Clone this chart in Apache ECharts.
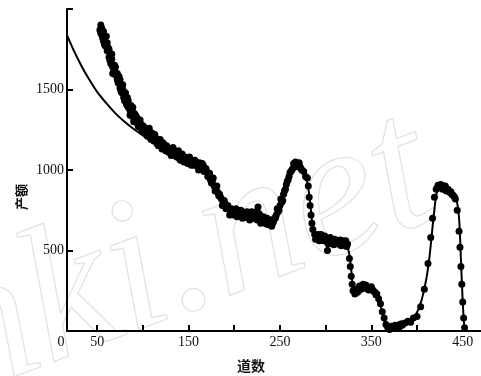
<!DOCTYPE html>
<html>
<head>
<meta charset="utf-8">
<script src="https://cdn.jsdelivr.net/npm/echarts@6/dist/echarts.min.js"></script>
<style>
  html, body { margin: 0; padding: 0; background: #fff; }
  #chart { width: 481px; height: 376px; }
</style>
</head>
<body>
<div id="chart"></div>
<script>
// measured points (channel, yield)
const dotChannels = [
  53, 54, 55, 56, 57, 58, 59, 60, 61, 62, 63, 64, 65, 66, 67, 68, 69, 70, 71, 72,
  73, 74, 75, 76, 77, 78, 79, 80, 81, 82, 83, 84, 85, 86, 87, 88, 89, 90, 91, 92,
  93, 94, 95, 96, 97, 98, 99, 100, 102, 104, 106, 108, 110, 112, 114, 116, 118, 120,
  122, 124, 126, 128, 130, 132, 134, 136, 138, 140, 142, 144, 146, 148, 150, 152,
  154, 156, 158, 160, 162, 164, 166, 168, 170, 172, 174, 176, 178, 180, 182, 184,
  186, 188, 190, 192, 194, 196, 198, 200, 202, 204, 206, 208, 210, 212, 214, 216,
  218, 220, 222, 224, 226, 226, 228, 230, 232, 234, 236, 238, 240, 242, 244, 246,
  248, 250, 252, 254, 256, 258, 260, 262, 264, 266, 268, 270, 272, 274, 276, 278,
  280, 281, 282, 283, 284, 285, 286, 288, 290, 292, 294, 296, 298, 300, 302, 302,
  304, 306, 308, 310, 312, 314, 316, 318, 320, 322, 324, 326, 327, 328, 329, 330,
  332, 334, 336, 338, 340, 342, 344, 346, 348, 350, 352, 354, 356, 358, 360, 362,
  364, 366, 368, 370, 372, 375, 378, 381, 384, 387, 390, 393, 396, 400, 404, 408,
  412, 415, 417, 419, 421, 422, 424, 425, 427, 428, 430, 432, 434, 436, 438, 440,
  442, 444, 446, 447, 448, 449, 450, 451, 452,
  54, 55, 57, 58, 60, 61, 63, 64, 66, 67, 69, 70, 72, 73, 75, 76, 78, 80, 81, 83,
  84, 86, 87, 89, 90, 92, 94, 95, 97, 99, 101, 103, 105, 107, 109, 111, 113, 115,
  117, 119, 121, 123, 125, 127, 129, 131, 133, 135, 137, 139, 141, 143, 145, 147,
  149, 151, 153, 155, 157, 159, 161, 163, 165, 167, 169, 171, 173, 175, 177, 179,
  181, 183, 185, 187, 189, 191, 193, 195, 197, 199, 201, 203, 205, 207, 209, 211,
  213, 215, 217, 219, 221, 223, 225, 227, 229, 231, 233, 235, 237, 239, 241, 243,
  245, 247, 249, 251, 253, 255, 257, 259, 261, 263, 265, 267, 269, 271, 273,
  289, 291, 293, 295, 297, 299, 301, 303, 305, 307, 309, 311, 313, 315, 317, 319,
  321, 323, 333, 335, 337, 339, 341, 343, 345, 347, 349, 351, 353, 355,
  423, 426, 429, 431, 433, 435, 437, 439, 441, 369, 373, 376, 380, 383
];
const dotCounts = [
  1870, 1850, 1880, 1820, 1800, 1835, 1770, 1790, 1740, 1760, 1700, 1720, 1660, 1690, 1640, 1610, 1650, 1590, 1600, 1560,
  1540, 1580, 1510, 1530, 1480, 1500, 1450, 1470, 1440, 1410, 1450, 1390, 1400, 1370, 1400, 1340, 1360, 1320, 1350, 1310,
  1330, 1290, 1300, 1270, 1310, 1260, 1280, 1240, 1260, 1220, 1240, 1200, 1230, 1180, 1200, 1160, 1180, 1150,
  1170, 1130, 1150, 1110, 1130, 1100, 1120, 1090, 1110, 1070, 1090, 1060, 1080, 1050, 1070, 1040,
  1060, 1030, 1050, 1020, 1045, 1010, 1030, 1000, 990, 970, 940, 930, 900, 880, 860, 850,
  820, 800, 790, 770, 760, 740, 750, 730, 760, 740, 720, 745, 735, 720, 740, 710,
  730, 720, 705, 740, 700, 770, 720, 690, 710, 680, 700, 660, 690, 670, 700, 720,
  740, 780, 800, 850, 880, 930, 960, 990, 1010, 1030, 1040, 1030, 1020, 1000, 990, 960,
  950, 900, 830, 780, 720, 670, 630, 600, 580, 600, 570, 590, 560, 580, 550, 500,
  575, 560, 545, 570, 555, 540, 565, 550, 535, 560, 540, 450, 400, 340, 290, 250,
  230, 260, 250, 270, 280, 265, 285, 270, 260, 275, 250, 240, 230, 200, 170, 120,
  80, 40, 20, 10, 30, 15, 25, 40, 35, 50, 60, 55, 80, 90, 150, 260,
  420, 580, 700, 830, 880, 890, 900, 890, 905, 880, 895, 870, 880, 860, 850, 840,
  820, 750, 620, 520, 400, 290, 180, 80, 20,
  1900, 1840, 1860, 1780, 1830, 1790, 1750, 1680, 1720, 1600, 1620, 1640, 1600, 1570, 1560, 1490, 1530, 1430, 1480, 1400,
  1430, 1340, 1360, 1390, 1300, 1340, 1320, 1270, 1280, 1250, 1270, 1230, 1210, 1260, 1190, 1210, 1220, 1170,
  1150, 1190, 1130, 1160, 1120, 1140, 1120, 1090, 1140, 1100, 1080, 1120, 1060, 1100, 1050, 1070,
  1040, 1080, 1030, 1050, 1060, 1030, 1000, 1020, 1040, 990, 1010, 960, 980, 920, 950, 870,
  900, 840, 830, 780, 810, 760, 780, 720, 760, 720, 750, 710, 740, 750, 700, 730,
  705, 725, 690, 740, 700, 720, 690, 730, 670, 700, 690, 665, 690, 670, 650, 680,
  700, 760, 750, 820, 810, 870, 910, 940, 985, 1000, 1040, 1050, 1020, 1045, 1010,
  570, 595, 560, 600, 570, 590, 565, 540, 580, 555, 535, 560, 545, 555, 530, 560,
  545, 525, 250, 240, 280, 260, 290, 270, 280, 255, 270, 260, 245, 225,
  905, 910, 885, 900, 875, 870, 865, 845, 830, 15, 20, 35, 15, 45
];

// fitted curve
const fitChannels = [
  17, 25, 33, 41, 50, 60, 70, 80, 90, 100, 110, 120, 130, 140, 150, 160, 168, 176,
  184, 192, 200, 210, 220, 230, 240, 248, 256, 262, 268, 272, 276, 280, 283, 286,
  290, 300, 310, 320, 325, 328, 331, 336, 345, 352, 358, 362, 366, 370, 380, 390,
  396, 402, 408, 413, 418, 422, 426, 432, 438, 443, 446, 448, 450, 452
];
const fitCounts = [
  1838, 1735, 1645, 1565, 1485, 1415, 1352, 1300, 1255, 1215, 1180, 1145, 1112, 1082, 1055, 1030, 990, 930,
  850, 780, 730, 705, 695, 700, 700, 750, 880, 980, 1035, 1030, 990, 920, 800, 650,
  590, 570, 555, 545, 500, 380, 260, 265, 270, 250, 200, 110, 35, 10, 20, 50,
  80, 140, 260, 430, 700, 870, 900, 895, 870, 820, 700, 450, 180, 0
];

const xTickValues = [50, 100, 150, 200, 250, 300, 350, 400, 450];
const xLabelValues = [17, 50, 150, 250, 350, 450];
const yLabelValues = [500, 1000, 1500];

const chart = echarts.init(document.getElementById('chart'));

const serif = '"Liberation Serif", "DejaVu Serif", serif';
const cjk = '"Noto Sans CJK SC", sans-serif';

chart.setOption({
  animation: false,
  backgroundColor: '#fff',
  grid: { left: 67, right: 0, top: 9, bottom: 45 },
  xAxis: {
    type: 'value',
    min: 17,
    max: 470,
    axisLine: { lineStyle: { color: '#000', width: 2 } },
    axisTick: {
      inside: true,
      length: 6,
      customValues: xTickValues,
      lineStyle: { color: '#000', width: 2 }
    },
    axisLabel: {
      customValues: xLabelValues,
      margin: 4,
      color: '#111',
      fontFamily: serif,
      fontSize: 14,
      formatter: v => (v === 17 ? '{o|0}' : String(v)),
      rich: { o: { padding: [0, 12, 0, 0], fontFamily: serif, fontSize: 14, color: '#111' } }
    },
    splitLine: { show: false }
  },
  yAxis: {
    type: 'value',
    min: 0,
    max: 2000,
    interval: 500,
    axisLine: { show: true, lineStyle: { color: '#000', width: 2 } },
    axisTick: {
      show: true,
      inside: true,
      length: 6,
      lineStyle: { color: '#000', width: 2 }
    },
    axisLabel: {
      customValues: yLabelValues,
      margin: 3,
      color: '#111',
      fontFamily: serif,
      fontSize: 14,
      formatter: v => String(v)
    },
    splitLine: { show: false }
  },
  graphic: [
    {
      type: 'text',
      z: -10,
      silent: true,
      x: -25,
      y: 440,
      rotation: 0.36,
      style: {
        text: 'nki.net',
        font: 'italic 192px "Liberation Serif", serif',
        fill: 'none',
        stroke: '#e2e2e2',
        lineWidth: 1.2,
        textVerticalAlign: 'bottom'
      }
    },
    {
      type: 'text',
      x: 21,
      y: 197,
      rotation: Math.PI / 2,
      style: {
        text: '产额',
        font: 'bold 13px ' + cjk,
        fill: '#111',
        textAlign: 'center',
        textVerticalAlign: 'middle'
      }
    },
    {
      type: 'text',
      x: 251,
      y: 366,
      style: {
        text: '道数',
        font: 'bold 14px ' + cjk,
        fill: '#111',
        textAlign: 'center',
        textVerticalAlign: 'middle'
      }
    }
  ],
  series: [
    {
      type: 'line',
      data: fitChannels.map((c, i) => [c, fitCounts[i]]),
      smooth: 0.35,
      showSymbol: false,
      lineStyle: { color: '#000', width: 2 },
      z: 2
    },
    {
      type: 'scatter',
      data: dotChannels.map((c, i) => [c, dotCounts[i]]),
      symbolSize: 7,
      itemStyle: { color: '#000', opacity: 1 },
      z: 3
    }
  ]
});
</script>
</body>
</html>
